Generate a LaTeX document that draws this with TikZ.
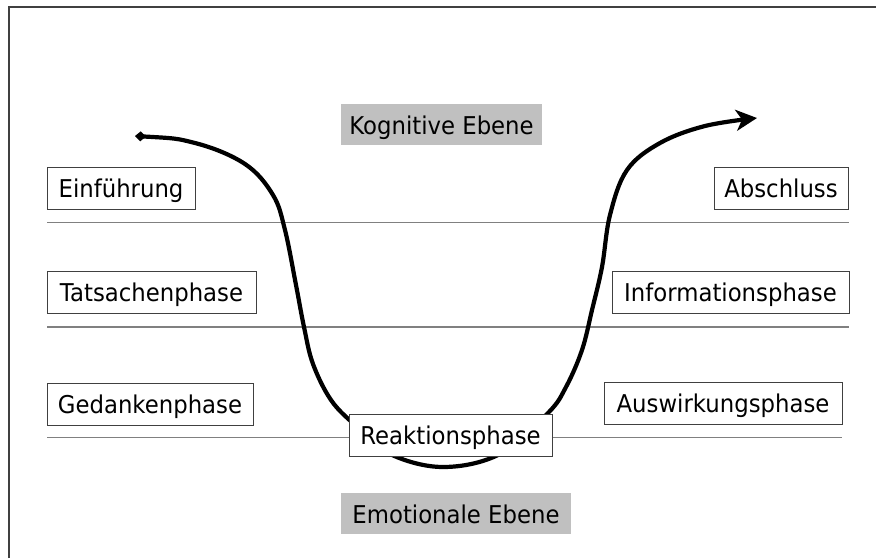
\documentclass[tikz,border=0pt]{standalone}
\usepackage{fontspec}
\setmainfont[FakeStretch=0.93]{DejaVu Sans}
\usetikzlibrary{arrows.meta}
\definecolor{sepgray}{HTML}{808080}
\definecolor{boxgray}{HTML}{C0C0C0}
\definecolor{framegray}{HTML}{404040}
\tikzset{
  phasebox/.style={draw=framegray, line width=0.9pt, fill=white, inner sep=0pt,
    minimum height=42pt, text height=19.5pt, text depth=0pt,
    font=\fontsize{24.5}{28}\selectfont},
  levelbox/.style={fill=boxgray, inner sep=0pt, minimum height=41pt,
    text height=19.5pt, text depth=0pt,
    font=\fontsize{24.5}{28}\selectfont},
  sepline/.style={draw=sepgray, line width=1.4pt},
  frameline/.style={draw=framegray, line width=1.6pt},
  flow/.style={line width=4.2pt, {Diamond[length=11pt,width=10pt]}-{Stealth[length=21pt,width=21pt,inset=6pt]}}
}
\begin{document}
\begin{tikzpicture}[x=1pt,y=-1pt]
\useasboundingbox (0,0) rectangle (876,558);
% frame
\coordinate (fa) at (9,558);
\coordinate (fb) at (9,7);
\coordinate (fc) at (876,7);
\draw[frameline] (fa) -- (fb) -- (fc);
% separator lines
\coordinate (l1a) at (47,222.5); \coordinate (l1b) at (849,222.5);
\coordinate (l2a) at (47,327); \coordinate (l2b) at (849,327);
\coordinate (l3a) at (47,437.5); \coordinate (l3b) at (842,437.5);
\draw[sepline] (l1a) -- (l1b);
\draw[sepline] (l2a) -- (l2b);
\draw[sepline] (l3a) -- (l3b);
% curve
\draw[flow] plot[smooth, tension=0.6] coordinates {
 (135,136) (195,143) (245,164) (273,195) (285,230)
 (296,285) (304,327) (313,364) (331,400) (355,425)
 (390,454) (443,467) (500,454) (548,413) (566,387)
 (582,350) (592,310) (602,267) (610,215) (627,170)
 (660,143) (705,126) (757,118)};
% boxes
\node[phasebox, minimum width=148pt] (einf) at (121,188) {Einführung};
\node[phasebox, minimum width=209pt] (tats) at (151.5,292) {Tatsachenphase};
\node[phasebox, minimum width=206pt] (gedk) at (150,404) {Gedankenphase};
\node[phasebox, minimum width=134pt] (absc) at (781,188) {Abschluss};
\node[phasebox, minimum width=237pt] (info) at (730.5,292) {Informationsphase};
\node[phasebox, minimum width=238pt] (ausw) at (723,403) {Auswirkungsphase};
\node[phasebox, minimum width=203pt] (reak) at (450.5,435) {Reaktionsphase};
\node[levelbox, minimum width=201pt] (kogn) at (441.5,124.5) {Kognitive Ebene};
\node[levelbox, minimum width=230pt] (emot) at (456,513.5) {Emotionale Ebene};
\end{tikzpicture}
\end{document}
